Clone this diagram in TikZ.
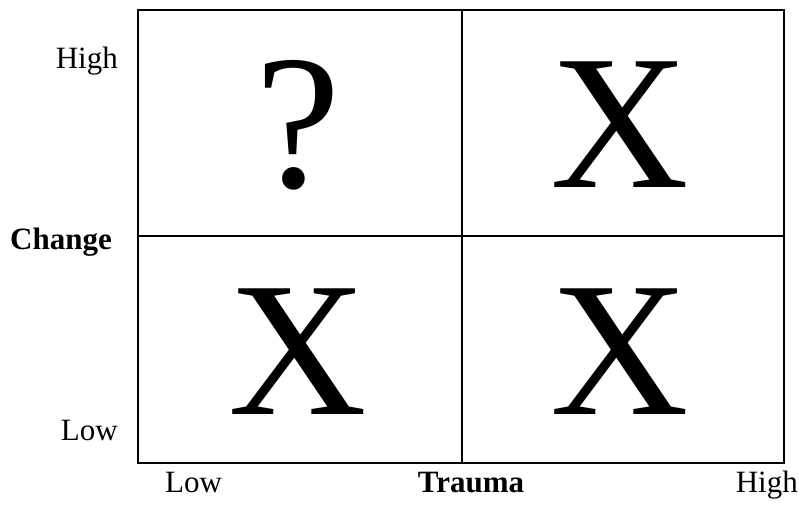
\documentclass[tikz,border=0pt]{standalone}
\usepackage{fontspec}
\setmainfont{Liberation Serif}
\begin{document}
\begin{tikzpicture}[x=1pt,y=1pt,
  lbl/.style={inner sep=0pt,font=\fontsize{31}{36}\selectfont},
  blbl/.style={inner sep=0pt,font=\fontsize{31}{36}\selectfont\bfseries},
  big/.style={inner sep=0pt,anchor=base,font=\fontsize{192}{200}\selectfont},
  gridline/.style={line width=1.5pt}]
\useasboundingbox (0,0) rectangle (799,505);
\coordinate (bl) at (138,42);
\coordinate (tr) at (784,495);
\coordinate (mt) at (462,495);
\coordinate (mb) at (462,42);
\coordinate (ml) at (138,269);
\coordinate (mr) at (784,269);
\draw[gridline] (bl) rectangle (tr);
\draw[gridline] (mt) -- (mb);
\draw[gridline] (ml) -- (mr);
\node[lbl,anchor=base east] (yhigh) at (118,436) {High};
\node[blbl,anchor=base west] (ylab) at (10,255) {Change};
\node[lbl,anchor=base east] (ylow) at (118,64) {Low};
\node[lbl,anchor=base west] (xlow) at (165,12) {Low};
\node[blbl,anchor=base] (xlab) at (471,12) {Trauma};
\node[lbl,anchor=base east] (xhigh) at (798,12) {High};
\node[big] (q) at (298,317) {?};
\node[big] (x1) at (620,317) {X};
\node[big] (x2) at (298,90) {X};
\node[big] (x3) at (620,90) {X};
\end{tikzpicture}
\end{document}
